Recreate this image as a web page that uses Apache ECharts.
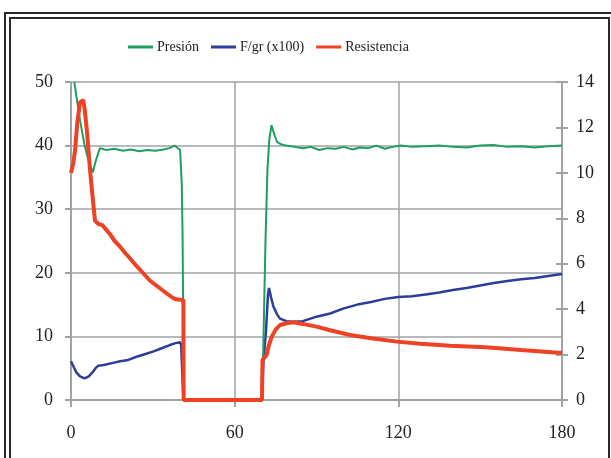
<!DOCTYPE html>
<html>
<head>
<meta charset="utf-8">
<script src="https://cdn.jsdelivr.net/npm/echarts@6/dist/echarts.min.js"></script>
<style>
  html, body { margin: 0; padding: 0; background: #fff; }
  #chart { width: 611px; height: 458px; }
</style>
</head>
<body>
<div id="chart"></div>
<script>
// datos (tiempo, valor)
const presionT = [1.2, 3.3, 5, 6.5, 8, 9, 10.6, 13, 16, 19, 22, 25, 28, 31, 34, 36, 38, 40, 40.6, 40.9, 41.1, 41.3,
    70, 70.4, 71.3, 72, 72.7, 73.5, 74.5, 75.5, 77, 79, 82, 85, 88, 91, 94, 97, 100, 103, 106, 109, 112, 115, 118,
    121, 125, 130, 135, 140, 145, 150, 155, 160, 165, 170, 175, 180];
const presionV = [50, 44, 40, 37.5, 35.8, 37.5, 39.6, 39.3, 39.5, 39.2, 39.4, 39.1, 39.3, 39.2, 39.4, 39.6, 40, 39.3, 34, 26, 15, 0,
    0, 6.3, 25, 36, 41, 43.2, 41.8, 40.6, 40.2, 40, 39.8, 39.6, 39.8, 39.3, 39.6, 39.5, 39.8, 39.4, 39.7, 39.6, 40, 39.5, 39.8,
    40, 39.8, 39.9, 40, 39.8, 39.7, 40, 40.1, 39.8, 39.9, 39.7, 39.9, 40];

const fuerzaT = [0, 1, 2, 3.3, 5, 6.5, 8, 9, 10, 12, 15, 18, 21, 24, 27, 30, 33, 36, 38, 40, 40.4, 40.7, 41, 41.3,
    70, 70.5, 71.5, 72.2, 72.6, 73.3, 74.2, 75.5, 76.6, 79, 81.5, 85, 90, 95, 100, 105, 110, 115, 120, 125, 130,
    135, 140, 145, 150, 155, 160, 165, 170, 175, 180];
const fuerzaV = [6.1, 5.2, 4.3, 3.7, 3.4, 3.7, 4.4, 5, 5.4, 5.5, 5.8, 6.1, 6.3, 6.8, 7.2, 7.6, 8.1, 8.6, 8.9, 9.1, 8.6, 5.2, 2, 0,
    0, 5.8, 11, 16.5, 17.6, 16.2, 14.7, 13.5, 12.8, 12.4, 12.3, 12.4, 13.1, 13.6, 14.4, 15, 15.4, 15.9, 16.2, 16.3, 16.6,
    16.9, 17.3, 17.6, 18, 18.4, 18.7, 19, 19.2, 19.5, 19.8];

const resistT = [0, 0.8, 1.5, 2.3, 3.3, 4.5, 5, 5.8, 7, 8.2, 8.8, 10, 11.5, 14.3, 16, 18, 20, 21.6, 24, 26.5, 29, 32.6,
    35, 37.5, 39, 41.2, 41.3, 70, 70.2, 71.7, 72.5, 73.6, 75, 76.6, 79, 81.5, 85, 90, 95, 102.3, 110, 119.4, 128,
    139, 152, 165, 178.6, 180];
const resistV = [10, 10.4, 11, 12.2, 13.1, 13.2, 12.8, 11.9, 10.1, 8.6, 7.9, 7.75, 7.7, 7.3, 7.0, 6.75, 6.45, 6.24, 5.9, 5.58, 5.25, 4.92,
    4.7, 4.48, 4.42, 4.4, 0, 0, 1.76, 1.98, 2.4, 2.79, 3.1, 3.3, 3.38, 3.42, 3.35, 3.23, 3.07, 2.86, 2.72, 2.57, 2.48,
    2.39, 2.32, 2.2, 2.08, 2.08];

const xTicks = [0, 60, 120, 180];
const leftTicks = [0, 10, 20, 30, 40, 50];
const rightTicks = [0, 2, 4, 6, 8, 10, 12, 14];

const pares = (t, v) => t.map((x, i) => [x, v[i]]);

const gris = '#9ea3a6';
const fuente = '"Liberation Serif", "DejaVu Serif", serif';

const chart = echarts.init(document.getElementById('chart'));

const option = {
    animation: false,
    backgroundColor: '#fff',
    grid: { left: 71, right: 49, top: 82, bottom: 58 },
    legend: {
        left: 128,
        top: 40,
        padding: 0,
        itemWidth: 25,
        itemHeight: 3,
        itemGap: 12,
        icon: 'rect',
        textStyle: { fontFamily: fuente, fontSize: 14, color: '#222', padding: [0, 0, 0, -1] },
        data: ['Presión', 'F/gr (x100)', 'Resistencia']
    },
    xAxis: {
        type: 'value',
        min: xTicks[0],
        max: xTicks[xTicks.length - 1],
        interval: 60,
        axisLine: { show: true, onZero: false, lineStyle: { color: gris, width: 2 } },
        axisTick: { show: true, length: 7, lineStyle: { color: gris, width: 2 } },
        axisLabel: { margin: 24, fontFamily: fuente, fontSize: 18, color: '#222' },
        splitLine: { show: true, lineStyle: { color: gris, width: 1.5 } }
    },
    yAxis: [
        {
            type: 'value',
            position: 'left',
            min: leftTicks[0],
            max: leftTicks[leftTicks.length - 1],
            interval: 10,
            axisLine: { show: true, lineStyle: { color: gris, width: 2 } },
            axisTick: { show: true, length: 6, lineStyle: { color: gris, width: 2 } },
            axisLabel: { margin: 18, fontFamily: fuente, fontSize: 18, color: '#222' },
            splitLine: { show: true, lineStyle: { color: gris, width: 1.5 } }
        },
        {
            type: 'value',
            position: 'right',
            min: rightTicks[0],
            max: rightTicks[rightTicks.length - 1],
            interval: 2,
            axisLine: { show: true, lineStyle: { color: gris, width: 2 } },
            axisTick: { show: true, length: 6, lineStyle: { color: gris, width: 2 } },
            axisLabel: { margin: 14, fontFamily: fuente, fontSize: 18, color: '#222' },
            splitLine: { show: false }
        },
        {
            // marcas hacia dentro del eje derecho
            type: 'value',
            position: 'right',
            min: rightTicks[0],
            max: rightTicks[rightTicks.length - 1],
            interval: 2,
            axisLine: { show: false },
            axisTick: { show: true, inside: true, length: 6, lineStyle: { color: gris, width: 2 } },
            axisLabel: { show: false },
            splitLine: { show: false }
        }
    ],
    series: [
        {
            name: 'Presión',
            type: 'line',
            yAxisIndex: 0,
            data: pares(presionT, presionV),
            showSymbol: false,
            color: '#1f9e62',
            lineStyle: { width: 2 },
            z: 3
        },
        {
            name: 'F/gr (x100)',
            type: 'line',
            yAxisIndex: 0,
            data: pares(fuerzaT, fuerzaV),
            showSymbol: false,
            color: '#2c3d9c',
            lineStyle: { width: 2.5 },
            z: 2
        },
        {
            name: 'Resistencia',
            type: 'line',
            yAxisIndex: 1,
            data: pares(resistT, resistV),
            showSymbol: false,
            color: '#ef4124',
            lineStyle: { width: 4 },
            z: 4
        }
    ],
    graphic: [
        // doble marco del recuadro
        { type: 'rect', shape: { x: 5, y: 13, width: 700, height: 600 }, style: { fill: 'none', stroke: '#2a2a2a', lineWidth: 2 }, silent: true },
        { type: 'rect', shape: { x: 10, y: 18, width: 599, height: 600 }, style: { fill: 'none', stroke: '#2a2a2a', lineWidth: 2 }, silent: true }
    ]
};

chart.setOption(option);
</script>
</body>
</html>
